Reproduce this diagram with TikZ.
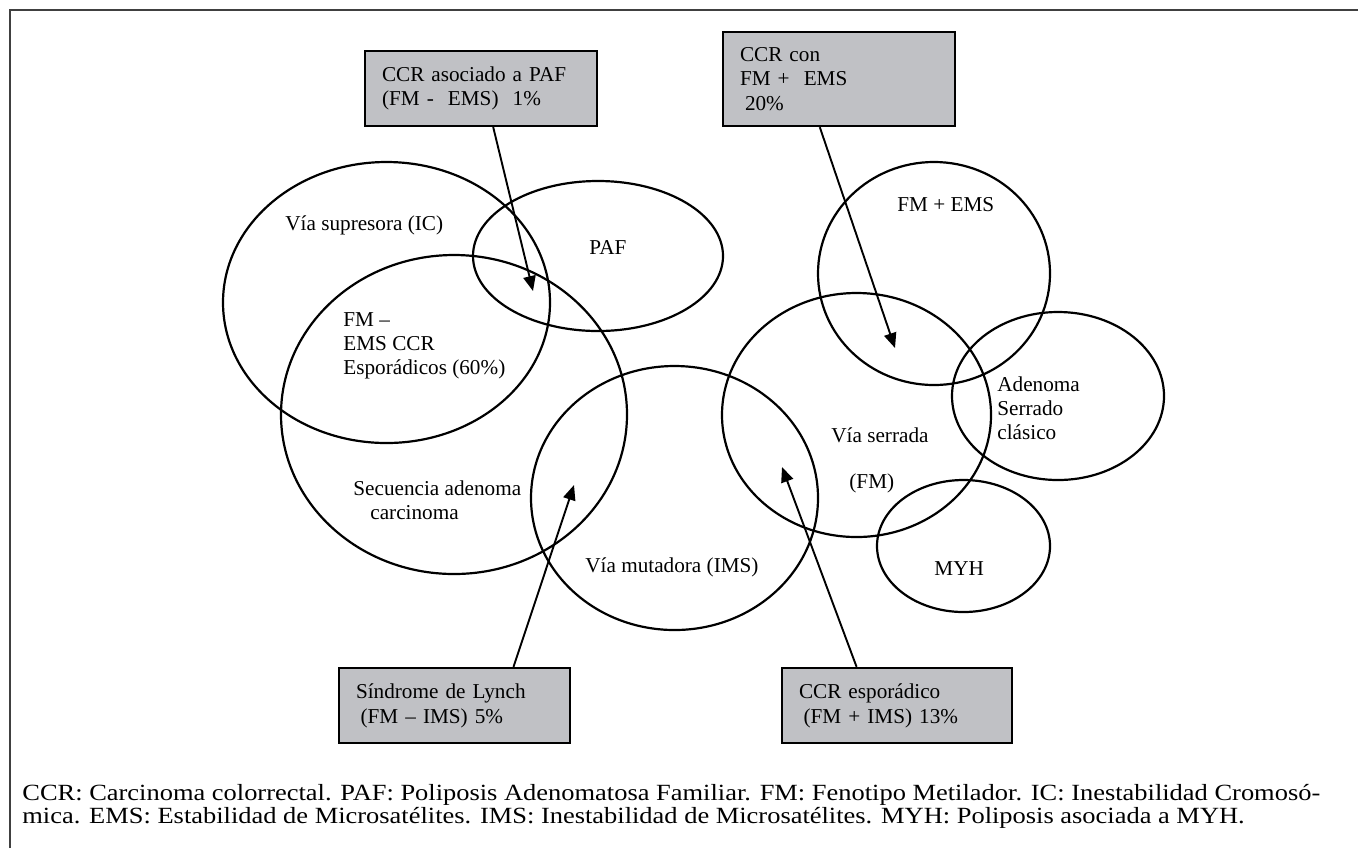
\documentclass[tikz,border=0pt]{standalone}
\usepackage{fontspec}
\setmainfont{Liberation Serif}
\newfontfamily\footfont[FakeStretch=1.14]{Liberation Serif}
\usetikzlibrary{shapes.geometric,arrows.meta,calc}
\definecolor{boxgray}{RGB}{192,193,197}
\begin{document}
\begin{tikzpicture}[x=0.5pt,y=-0.5pt,
  ell/.style={draw,ellipse,line width=1.1pt,inner sep=0pt},
  gbox/.style={draw,line width=1.15pt,fill=boxgray,align=left,inner sep=0pt,inner xsep=8.5pt,font=\fontsize{10.6}{12.4}\selectfont},
  lbl/.style={align=left,inner sep=0pt,font=\fontsize{10.6}{12}\selectfont},
  arr/.style={line width=0.95pt,-{Triangle[length=7.5pt,width=6.2pt]}}]
\useasboundingbox (0,0) rectangle (1358,848);
\draw[line width=0.8pt,black!75] (10,848) -- (10,10) -- (1358,10);
% ellipses
\node[ell,minimum width=163.5pt,minimum height=140.5pt] (sup) at (386.5,302.5) {};
\node[ell,minimum width=125pt,minimum height=75pt] (paf) at (598,256) {};
\node[ell,minimum width=173pt,minimum height=159.5pt] (sec) at (454,414.5) {};
\node[ell,minimum width=143.5pt,minimum height=132pt] (mut) at (674.5,498) {};
\node[ell,minimum width=134.5pt,minimum height=122pt] (ser) at (856.5,415) {};
\node[ell,minimum width=116pt,minimum height=111.5pt] (fme) at (934,273.5) {};
\node[ell,minimum width=106pt,minimum height=84pt] (ade) at (1058,396) {};
\node[ell,minimum width=86.5pt,minimum height=66pt] (myh) at (963.5,546) {};
% labels
\node[lbl,anchor=west] (lsup) at (285,225) {Vía supresora (IC)};
\node[lbl,anchor=west] (lpaf) at (589,247) {PAF};
\node[lbl,anchor=west] (lfm) at (343,346) {FM –\\EMS CCR\\Esporádicos (60\%)};
\node[lbl,anchor=west] (lsec) at (353,500) {Secuencia adenoma\\\hspace*{8.5pt}carcinoma};
\node[lbl,anchor=west] (lmut) at (585,567) {Vía mutadora (IMS)};
\node[lbl,anchor=west] (lser) at (831,435) {Vía serrada};
\node[lbl,anchor=west] (lfmp) at (849,483) {(FM)};
\node[lbl,anchor=west] (lfme) at (897,205) {FM + EMS};
\node[lbl,anchor=west] (lade) at (997,408.5) {Adenoma\\Serrado\\clásico};
\node[lbl,anchor=west] (lmyh) at (934,569) {MYH};
% boxes
\node[gbox,text width=99pt,minimum height=37.6pt] (b1) at (481,88.3) {CCR asociado a PAF\\(FM -~~EMS)~~1\%};
\node[gbox,text width=99pt,minimum height=47pt] (b2) at (839,79) {CCR con\\FM +~~EMS\\\hspace*{2.5pt}20\%};
\node[gbox,text width=98.5pt,minimum height=37.5pt] (b3) at (454.5,705.5) {Síndrome de Lynch\\\hspace*{2.3pt}(FM – IMS) 5\%};
\node[gbox,text width=98pt,minimum height=37.5pt] (b4) at (897,705.5) {CCR esporádico\\\hspace*{2.3pt}(FM + IMS) 13\%};
% arrows
\coordinate (t1) at (533,291);
\coordinate (t2) at (895,348);
\coordinate (t3) at (574,485);
\coordinate (t4) at (782,467);
\draw[arr] ($(b1.south west)!0.552!(b1.south east)$) -- (t1);
\draw[arr] ($(b2.south west)!0.418!(b2.south east)$) -- (t2);
\draw[arr] ($(b3.north west)!0.753!(b3.north east)$) -- (t3);
\draw[arr] ($(b4.north west)!0.326!(b4.north east)$) -- (t4);
% footer
\node[align=left,inner sep=0pt,anchor=west,font=\footfont\fontsize{11.6}{10.5}\selectfont] (foot) at (22,806) {CCR: Carcinoma colorrectal. PAF: Poliposis Adenomatosa Familiar. FM: Fenotipo Metilador. IC: Inestabilidad Cromosó-\\mica. EMS: Estabilidad de Microsatélites. IMS: Inestabilidad de Microsatélites. MYH: Poliposis asociada a MYH.};
\end{tikzpicture}
\end{document}
